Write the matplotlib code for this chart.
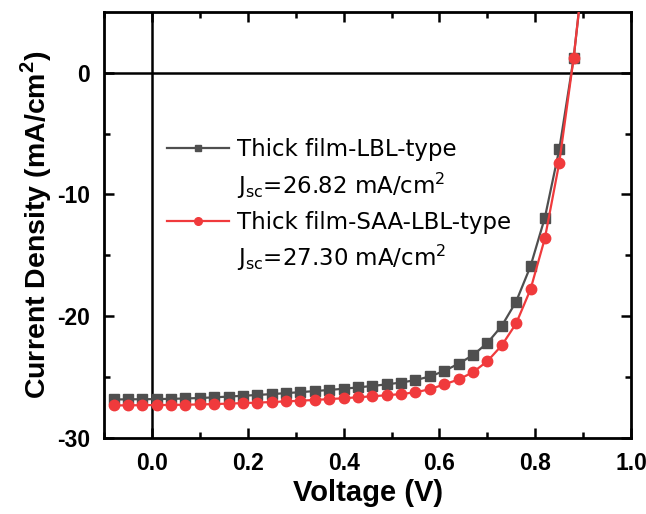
import numpy as np
import matplotlib
matplotlib.use("Agg")
import matplotlib.pyplot as plt
from matplotlib.lines import Line2D

# ---------------- data ----------------
voltage = [-0.08, -0.05, -0.02, 0.01, 0.04, 0.07, 0.10, 0.13, 0.16, 0.19,
           0.22, 0.25, 0.28, 0.31, 0.34, 0.37, 0.40, 0.43, 0.46, 0.49,
           0.52, 0.55, 0.58, 0.61, 0.64, 0.67, 0.70, 0.73, 0.76, 0.79,
           0.82, 0.85, 0.88, 0.895]

j_lbl = [-26.84, -26.83, -26.82, -26.81, -26.79, -26.76, -26.72, -26.67, -26.60, -26.54,
         -26.47, -26.40, -26.32, -26.24, -26.15, -26.06, -25.96, -25.85, -25.73, -25.60,
         -25.45, -25.25, -24.95, -24.50, -23.90, -23.20, -22.20, -20.80, -18.80, -15.90,
         -11.90, -6.30, 1.20, 6.5]

j_saa = [-27.33, -27.32, -27.31, -27.30, -27.29, -27.27, -27.25, -27.22, -27.18, -27.14,
         -27.10, -27.05, -27.00, -26.94, -26.88, -26.81, -26.74, -26.66, -26.58, -26.49,
         -26.40, -26.25, -26.00, -25.60, -25.20, -24.60, -23.70, -22.40, -20.60, -17.80,
         -13.60, -7.40, 1.20, 6.5]

labels = ["Thick film-LBL-type", "Thick film-SAA-LBL-type"]
jsc_text = ["J$_{\\mathregular{sc}}$=26.82 mA/cm$^{\\mathregular{2}}$",
            "J$_{\\mathregular{sc}}$=27.30 mA/cm$^{\\mathregular{2}}$"]

gray = "#4f4f4f"
red = "#f03a3c"

plt.rcParams["font.family"] = ["Liberation Sans", "DejaVu Sans"]
plt.rcParams["axes.unicode_minus"] = False

fig = plt.figure(figsize=(6.46, 5.14), dpi=100)
ax = fig.add_axes([0.161, 0.148, 0.816, 0.829])

n_marks = len(voltage) - 1
ax.plot(voltage, j_lbl, color=gray, lw=1.6, marker="s", ms=7,
        markevery=list(range(n_marks)), zorder=3)
ax.plot(voltage, j_saa, color=red, lw=1.6, marker="o", ms=7.5,
        markevery=list(range(n_marks)), zorder=4)

ax.axhline(0, color="black", lw=1.8, zorder=2)
ax.axvline(0, color="black", lw=1.8, zorder=2)

ax.set_xlim(-0.1, 1.0)
ax.set_ylim(-30, 5)
ax.set_xticks([0.0, 0.2, 0.4, 0.6, 0.8, 1.0])
ax.set_xticks([-0.1, 0.1, 0.3, 0.5, 0.7, 0.9], minor=True)
ax.set_yticks([-30, -20, -10, 0])
ax.set_yticks([-25, -15, -5], minor=True)
ax.set_xticklabels(["0.0", "0.2", "0.4", "0.6", "0.8", "1.0"])

ax.tick_params(which="both", direction="in", top=True, right=True, width=1.8,
               labelsize=16.5)
ax.tick_params(axis="x", pad=10)
ax.tick_params(axis="y", pad=10)
ax.tick_params(which="major", length=7)
ax.tick_params(which="minor", length=4)
for lab in ax.get_xticklabels() + ax.get_yticklabels():
    lab.set_fontweight("bold")
for sp in ax.spines.values():
    sp.set_linewidth(2.0)

ax.set_xlabel("Voltage (V)", fontsize=21, fontweight="bold", labelpad=3)
ax.set_ylabel("Current Density (mA/cm$^{\\mathregular{2}}$)", fontsize=20.5,
              fontweight="bold", labelpad=2)

# legend: each series followed by a blank-handle row for its Jsc
blank = Line2D([], [], alpha=0)
handles = [Line2D([], [], color=gray, lw=1.6, marker="s", ms=5), blank,
           Line2D([], [], color=red, lw=1.6, marker="o", ms=5.5), blank]
texts = [labels[0], jsc_text[0], labels[1], jsc_text[1]]
leg = ax.legend(handles, texts, loc="upper left", bbox_to_anchor=(0.08, 0.752),
                frameon=False, handlelength=2.7, handletextpad=0.35,
                labelspacing=0.42, prop={"family": "DejaVu Sans", "size": 16.5})

fig.savefig("out.png", dpi=100)
